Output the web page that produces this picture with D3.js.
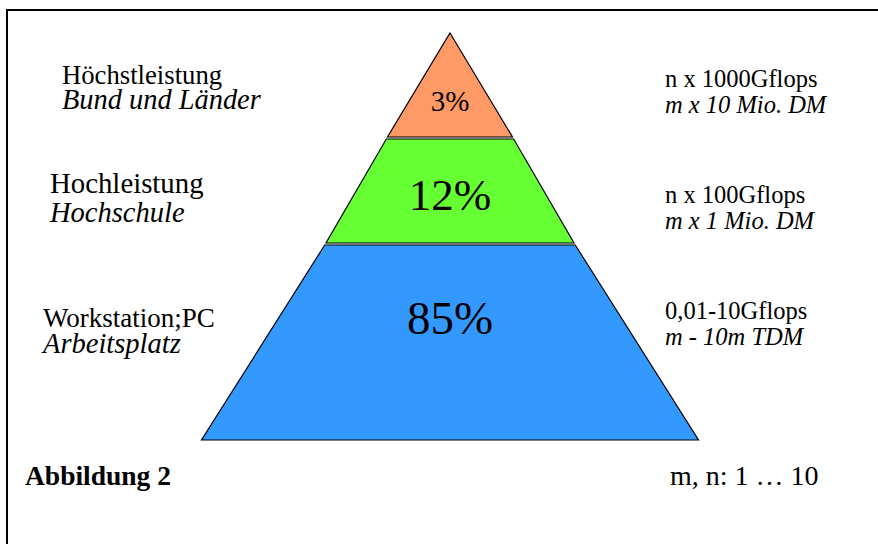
<!DOCTYPE html>
<html>
<head>
<meta charset="utf-8">
<script src="https://cdn.jsdelivr.net/npm/d3@7"></script>
<style>
  body { margin: 0; background: #fff; }
  svg { display: block; }
</style>
</head>
<body>
<svg id="chart" width="878" height="544"></svg>
<script>
// Computing tiers, top to bottom
const tiers = ["Höchstleistung", "Hochleistung", "Workstation;PC"];
const users = ["Bund und Länder", "Hochschule", "Arbeitsplatz"];
const shares = [3, 12, 85];
const performance = ["n x 1000Gflops", "n x 100Gflops", "0,01-10Gflops"];
const costs = ["m x 10 Mio. DM", "m x 1 Mio. DM", "m - 10m TDM"];
const caption = "Abbildung 2";
const note = "m, n: 1 … 10";

// Styling
const colors = ["#FF9966", "#66FF33", "#3399FF"];
const shareFont = [29, 45, 47];
const tierFont = [26.7, 28.8, 27];
const userFont = [28.4, 28.5, 28.5];
const SERIF = "'Liberation Serif', 'Times New Roman', Tinos, serif";

const svg = d3.select("#chart");
const W = 878, H = 544;
const cx = 450;

// Pyramid geometry: level units -> pixel rows / half widths
const yLevel = d3.scaleLinear().domain([0, 1, 2, 3]).range([33, 137, 243, 440]);
const halfW = d3.scaleLinear().domain([0, 1, 2, 3]).range([0, 62.5, 124, 248.5]);

// Frame
svg.append("path")
  .attr("d", `M7,${H} V10 H${W}`)
  .attr("fill", "none").attr("stroke", "#000").attr("stroke-width", 2);

const rows = tiers.map((t, i) => ({
  i, tier: t, user: users[i], share: shares[i],
  perf: performance[i], cost: costs[i], color: colors[i]
}));

// Tier shapes (each tier starts slightly below the previous one)
const gapPx = 2;
function tierPoints(i) {
  const yTop = i === 0 ? yLevel(0) : yLevel(i) + gapPx;
  const yBot = yLevel(i + 1);
  const lTop = yLevel.invert(yTop), lBot = i + 1;
  const wt = halfW(lTop), wb = halfW(lBot);
  return i === 0
    ? [[cx, yTop], [cx + wb, yBot], [cx - wb, yBot]]
    : [[cx - wt, yTop], [cx + wt, yTop], [cx + wb, yBot], [cx - wb, yBot]];
}

const g = svg.append("g");
g.selectAll("path.tier").data(rows).join("path")
  .attr("class", "tier")
  .attr("d", d => "M" + tierPoints(d.i).join("L") + "Z")
  .attr("fill", d => d.color)
  .attr("stroke", "#000").attr("stroke-width", 1.2)
  .attr("stroke-linejoin", "miter");

// Gray seam between stacked tiers
g.selectAll("line.seam").data(rows.slice(1)).join("line")
  .attr("class", "seam")
  .attr("x1", d => cx - halfW(d.i)).attr("x2", d => cx + halfW(d.i))
  .attr("y1", d => yLevel(d.i) + 1).attr("y2", d => yLevel(d.i) + 1)
  .attr("stroke", "#666").attr("stroke-width", 1);

// Share labels
const shareY = [111, 210, 334];
g.selectAll("text.share").data(rows).join("text")
  .attr("class", "share")
  .attr("x", cx).attr("y", d => shareY[d.i])
  .attr("text-anchor", "middle")
  .style("font-family", SERIF)
  .attr("font-size", d => shareFont[d.i])
  .text(d => d.share + "%");

// Left labels
const leftX = [62, 50, 43];
const leftY = [84, 193, 327];
const leftGap = [25, 29, 26];
const left = svg.selectAll("g.left").data(rows).join("g").attr("class", "left");
left.append("text")
  .attr("x", d => leftX[d.i]).attr("y", d => leftY[d.i])
  .style("font-family", SERIF).attr("font-size", d => tierFont[d.i])
  .text(d => d.tier);
left.append("text")
  .attr("x", d => leftX[d.i]).attr("y", d => leftY[d.i] + leftGap[d.i])
  .style("font-family", SERIF).attr("font-size", d => userFont[d.i])
  .attr("font-style", "italic").text(d => d.user);

// Right labels
const rightX = 665;
const rightY = [87, 203, 319];
const right = svg.selectAll("g.right").data(rows).join("g").attr("class", "right");
right.append("text")
  .attr("x", rightX).attr("y", d => rightY[d.i])
  .style("font-family", SERIF).attr("font-size", 24.5)
  .text(d => d.perf);
right.append("text")
  .attr("x", rightX).attr("y", d => rightY[d.i] + 26)
  .style("font-family", SERIF).attr("font-size", 24.5)
  .attr("font-style", "italic").text(d => d.cost);

// Caption and footnote
svg.append("text").attr("x", 25).attr("y", 485)
  .style("font-family", SERIF).attr("font-size", 27.5)
  .attr("font-weight", "bold").text(caption);
svg.append("text").attr("x", 670).attr("y", 485)
  .style("font-family", SERIF).attr("font-size", 28)
  .text(note);
</script>
</body>
</html>
